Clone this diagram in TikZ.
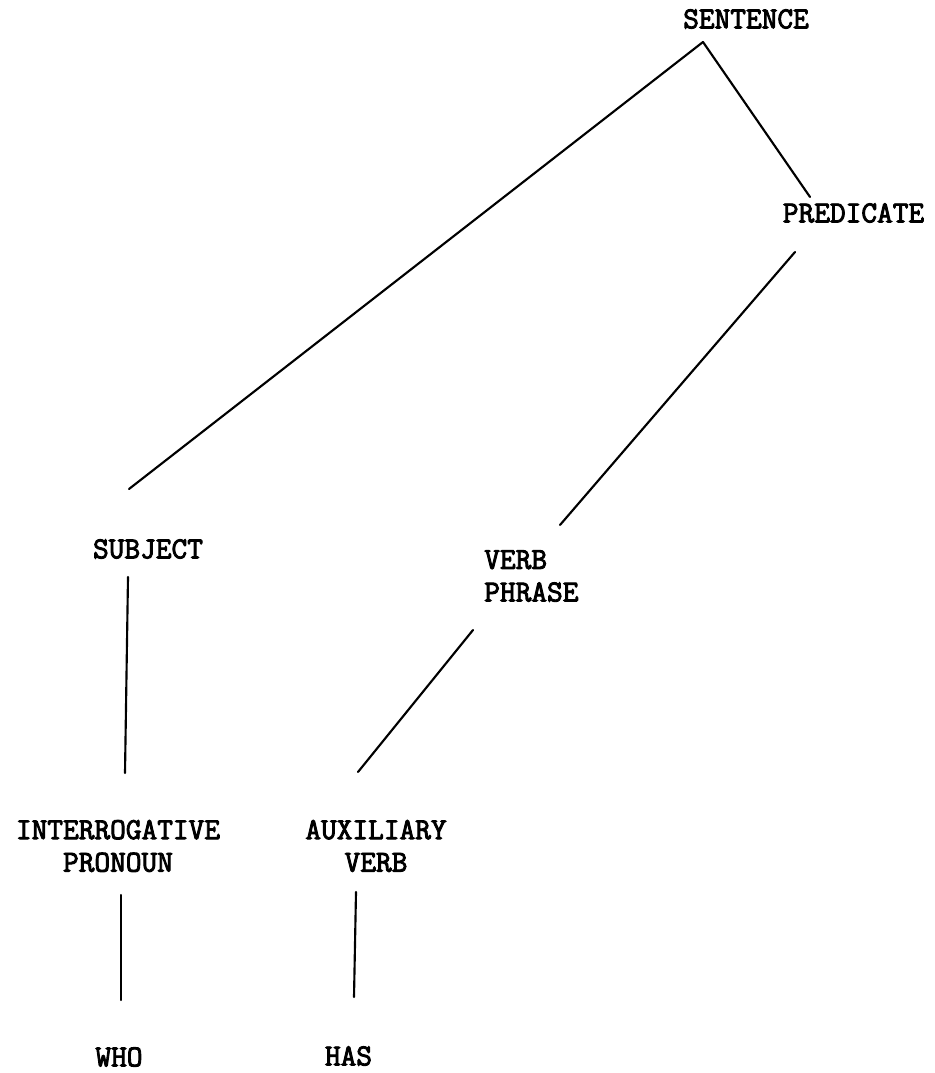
\documentclass[tikz,border=0pt]{standalone}
\usepackage{fontspec}
\newfontfamily\typew{Latin Modern Mono}[FakeBold=3]
\usetikzlibrary{calc}
\tikzset{
  lbl/.style={inner sep=0pt, font=\typew\fontsize{22.86pt}{24.4pt}\selectfont, align=center, text=black},
  edge/.style={draw=black, line width=1.6pt, line cap=round}
}
\begin{document}
\begin{tikzpicture}[x=0.75pt,y=-0.75pt]
\useasboundingbox (0,0) rectangle (934,1073);
\fill[white] (0,0) rectangle (934,1073);
\node[lbl] (sent) at (746,19) {SENTENCE};
\node[lbl] (pred) at (853.5,213) {PREDICATE};
\node[lbl] (subj) at (148,549) {SUBJECT};
\node[lbl, anchor=west, align=left] (vp) at (484,576) {VERB\\PHRASE};
\node[lbl] (ip) at (118,846) {INTERROGATIVE\\PRONOUN};
\node[lbl] (aux) at (376,846) {AUXILIARY\\VERB};
\node[lbl] (who) at (119,1057) {WHO};
\node[lbl] (has) at (348.5,1056) {HAS};
\draw[edge] ($(sent)+(-43,23)$) -- ($(subj)+(-19,-60)$);
\draw[edge] ($(sent)+(-43,23)$) -- ($(pred)+(-43.5,-16)$);
\draw[edge] ($(pred)+(-58.5,39)$) -- ($(vp.west)+(76,-51)$);
\draw[edge] ($(vp.west)+(-11,54)$) -- ($(aux)+(-18,-74)$);
\draw[edge] ($(subj)+(-20,28)$) -- ($(ip)+(7,-73)$);
\draw[edge] ($(ip)+(3,49)$) -- ($(who)+(2,-57)$);
\draw[edge] ($(aux)+(-20,46)$) -- ($(has)+(5.5,-59)$);
\end{tikzpicture}
\end{document}
